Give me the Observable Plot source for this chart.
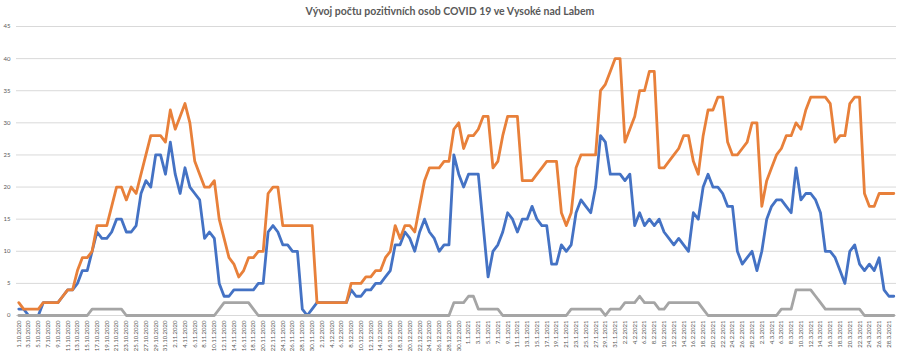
<!DOCTYPE html>
<html><head><meta charset="utf-8">
<script src="https://cdn.jsdelivr.net/npm/d3@7"></script>
<script src="https://cdn.jsdelivr.net/npm/@observablehq/plot@0.6"></script>
<style>
body{margin:0;background:#fff;width:900px;height:358px;overflow:hidden;font-family:Lato,"Open Sans",sans-serif}
#title{height:22px;line-height:23px;text-align:center;font-size:10.5px;font-weight:700;color:#595959;font-family:Lato,sans-serif}
</style></head><body>
<div id="title">Vývoj počtu pozitivních osob COVID 19 ve Vysoké nad Labem</div>
<div id="chart"></div>
<script>
const startDay = "2020-10-01";
const endDay = "2021-03-29";
const yTicks = [0, 5, 10, 15, 20, 25, 30, 35, 40, 45];
const seriesNames = ["modrá", "oranžová", "šedá"];
const seriesColors = ["#4472C4", "#E8803A", "#A5A5A5"];

const blue = [
 1,1,0,0,0,2,2,2,2,3,
 4,4,5,7,7,10,13,12,12,13,
 15,15,13,13,14,19,21,20,25,25,
 22,27,22,19,23,20,19,18,12,13,
 12,5,3,3,4,4,4,4,4,5,
 5,13,14,13,11,11,10,10,1,0,
 1,2,2,2,2,2,2,2,4,3,
 3,4,4,5,5,6,7,11,11,13,
 12,10,13,15,13,12,10,11,11,25,
 22,20,22,22,22,14,6,10,11,13,
 16,15,13,15,15,17,15,14,14,8,
 8,11,10,11,16,18,17,16,20,28,
 27,22,22,22,21,22,14,16,14,15,
 14,15,13,12,11,12,11,10,16,15,
 20,22,20,20,19,17,17,10,8,9,
 10,7,10,15,17,18,18,17,16,23,
 18,19,19,18,16,10,10,9,7,5,
 10,11,8,7,8,7,9,4,3,3
];
const orange = [
 2,1,1,1,1,2,2,2,2,3,
 4,4,7,9,9,10,14,14,14,17,
 20,20,18,20,19,22,25,28,28,28,
 27,32,29,31,33,30,24,22,20,20,
 21,15,12,9,8,6,7,9,9,10,
 10,19,20,20,14,14,14,14,14,14,
 14,2,2,2,2,2,2,2,5,5,
 5,6,6,7,7,9,10,14,12,14,
 14,13,17,21,23,23,23,24,24,29,
 30,26,28,28,29,31,31,23,24,28,
 31,31,31,21,21,21,22,23,24,24,
 24,16,14,16,23,25,25,25,25,35,
 36,38,40,40,27,29,31,35,35,38,
 38,23,23,24,25,26,28,28,24,22,
 28,32,32,34,34,27,25,25,26,27,
 30,30,17,21,23,25,26,28,28,30,
 29,32,34,34,34,34,33,27,28,28,
 33,34,34,19,17,17,19,19,19,19
];
const gray = [
 0,0,0,0,0,0,0,0,0,0,
 0,0,0,0,0,1,1,1,1,1,
 1,1,0,0,0,0,0,0,0,0,
 0,0,0,0,0,0,0,0,0,0,
 0,1,2,2,2,2,2,2,1,0,
 0,0,0,0,0,0,0,0,0,0,
 0,0,0,0,0,0,0,0,0,0,
 0,0,0,0,0,0,0,0,0,0,
 0,0,0,0,0,0,0,0,0,2,
 2,2,3,3,1,1,1,1,1,0,
 0,0,0,0,0,0,0,0,0,0,
 0,0,0,1,1,1,1,1,1,1,
 0,1,1,1,2,2,2,3,2,2,
 2,1,1,2,2,2,2,2,2,2,
 1,0,0,0,0,0,0,0,0,0,
 0,0,0,0,0,0,1,1,1,4,
 4,4,4,3,2,1,1,1,1,1,
 1,1,1,0,0,0,0,0,0,0
];

const dates = d3.utcDay.range(new Date(startDay), d3.utcDay.offset(new Date(endDay), 1));
const xTicks = dates.filter((d, i) => i % 2 === 0);
const fmt = d => `${d.getUTCDate()}.${d.getUTCMonth() + 1}.${d.getUTCFullYear()}`;
const rows = (vals, s) => dates.map((d, i) => ({date: d, value: vals[i], series: s}));
const allSeries = [blue, orange, gray];

const chart = Plot.plot({
  width: 900,
  height: 336,
  marginTop: 4,
  marginBottom: 43,
  marginLeft: 16,
  marginRight: 4,
  style: {fontSize: "6px", color: "#595959", fontFamily: "Lato, sans-serif", background: "#fff"},
  x: {type: "utc", domain: [dates[0], dates[dates.length - 1]], insetLeft: 2.3, insetRight: 2.7,
      ticks: xTicks, tickFormat: fmt, tickRotate: -90, tickSize: 0, tickPadding: 5, label: null},
  y: {domain: [0, 45], ticks: yTicks, tickSize: 0, tickPadding: 6, label: null},
  marks: [
    Plot.ruleY(yTicks, {stroke: "#d9d9d9", strokeWidth: 1}),
    ...allSeries.map((vals, k) => Plot.line(rows(vals, seriesNames[k]), {
      x: "date", y: "value", stroke: seriesColors[k], strokeWidth: 2.8,
      strokeLinejoin: "round", strokeLinecap: "round"
    }))
  ]
});
document.getElementById("chart").appendChild(chart);
</script>
</body></html>
